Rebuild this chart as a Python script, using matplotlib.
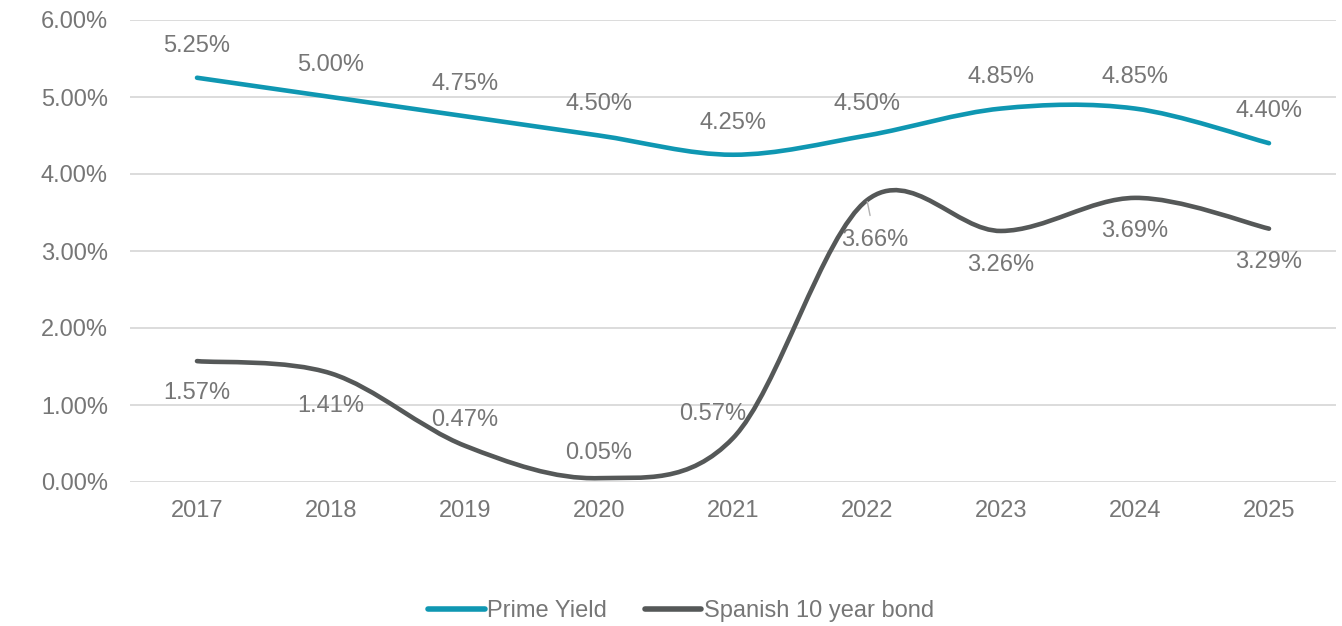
import numpy as np
import matplotlib.pyplot as plt
from matplotlib.path import Path
from matplotlib.patches import PathPatch
from matplotlib.lines import Line2D
from matplotlib.ticker import FuncFormatter, MultipleLocator

plt.rcParams['font.family'] = ['Liberation Sans', 'DejaVu Sans']

years = ['2017', '2018', '2019', '2020', '2021', '2022', '2023', '2024', '2025']
prime_yield = [5.25, 5.00, 4.75, 4.50, 4.25, 4.50, 4.85, 4.85, 4.40]
bond_10y = [1.57, 1.41, 0.47, 0.05, 0.57, 3.66, 3.26, 3.69, 3.29]

# label offsets in pixels (dx, dy) from each point
prime_offsets = [(0, 32)] * 9
bond_offsets = [(0, -32), (0, -33), (0, 26), (0, 25), (-20, 24),
                (8, -40), (0, -34), (0, -33), (0, -33)]

TEAL = '#0f97b2'
DARK = '#555858'
TXT = '#767676'
FS = 17


def smooth_path(y):
    # cubic bezier segments, catmull-rom style tangents
    x = np.arange(len(y), dtype=float)
    y = np.asarray(y, dtype=float)
    pts = np.column_stack([x, y])
    ext = np.vstack([pts[0], pts, pts[-1]])
    verts = [pts[0]]
    codes = [Path.MOVETO]
    for i in range(len(pts) - 1):
        p0, p1, p2, p3 = ext[i], ext[i + 1], ext[i + 2], ext[i + 3]
        c1 = p1 + (p2 - p0) / 6
        c2 = p2 - (p3 - p1) / 6
        verts += [c1, c2, p2]
        codes += [Path.CURVE4] * 3
    return Path(verts, codes)


fig = plt.figure(figsize=(13.42, 6.26), dpi=100)
ax = fig.add_axes([130 / 1342, 144 / 626, 1206 / 1342, 462 / 626])

for vals, color in [(prime_yield, TEAL), (bond_10y, DARK)]:
    patch = PathPatch(smooth_path(vals), facecolor='none', edgecolor=color,
                      lw=3.3, capstyle='round', joinstyle='round', zorder=3)
    ax.add_patch(patch)

for i, v in enumerate(prime_yield):
    ax.annotate(f'{v:.2f}%', (i, v), xytext=prime_offsets[i],
                textcoords='offset pixels', ha='center', va='center',
                fontsize=FS, color=TXT)

for i, v in enumerate(bond_10y):
    arrow = None
    if years[i] == '2022':
        arrow = dict(arrowstyle='-', color='#b0b0b0', lw=1,
                     shrinkA=8, shrinkB=1)
    ax.annotate(f'{v:.2f}%', (i, v), xytext=bond_offsets[i],
                textcoords='offset pixels', ha='center', va='center',
                fontsize=FS, color=TXT, arrowprops=arrow)

ax.set_xlim(-0.5, len(years) - 0.5)
ax.set_ylim(0, 6)
ax.set_xticks(range(len(years)))
ax.set_xticklabels(years)
ax.yaxis.set_major_locator(MultipleLocator(1))
ax.yaxis.set_major_formatter(FuncFormatter(lambda v, p: f'{v:.2f}%'))
ax.tick_params(length=0, labelsize=FS, labelcolor=TXT)
ax.tick_params(axis='x', pad=13)
ax.tick_params(axis='y', pad=16)
ax.grid(axis='y', color='#d9d9d9', lw=1.3)
ax.set_axisbelow(True)
for s in ax.spines.values():
    s.set_visible(False)

handles = [Line2D([], [], color=TEAL, lw=4, solid_capstyle='round'),
           Line2D([], [], color=DARK, lw=4, solid_capstyle='round')]
fig.legend(handles, ['Prime Yield', 'Spanish 10 year bond'],
           loc='center', bbox_to_anchor=(681 / 1342, 1 - 611 / 626), ncol=2,
           frameon=False, fontsize=FS, labelcolor=TXT, handlelength=2.4,
           handletextpad=0.1, columnspacing=1.6)

fig.savefig('out.png', dpi=100)
